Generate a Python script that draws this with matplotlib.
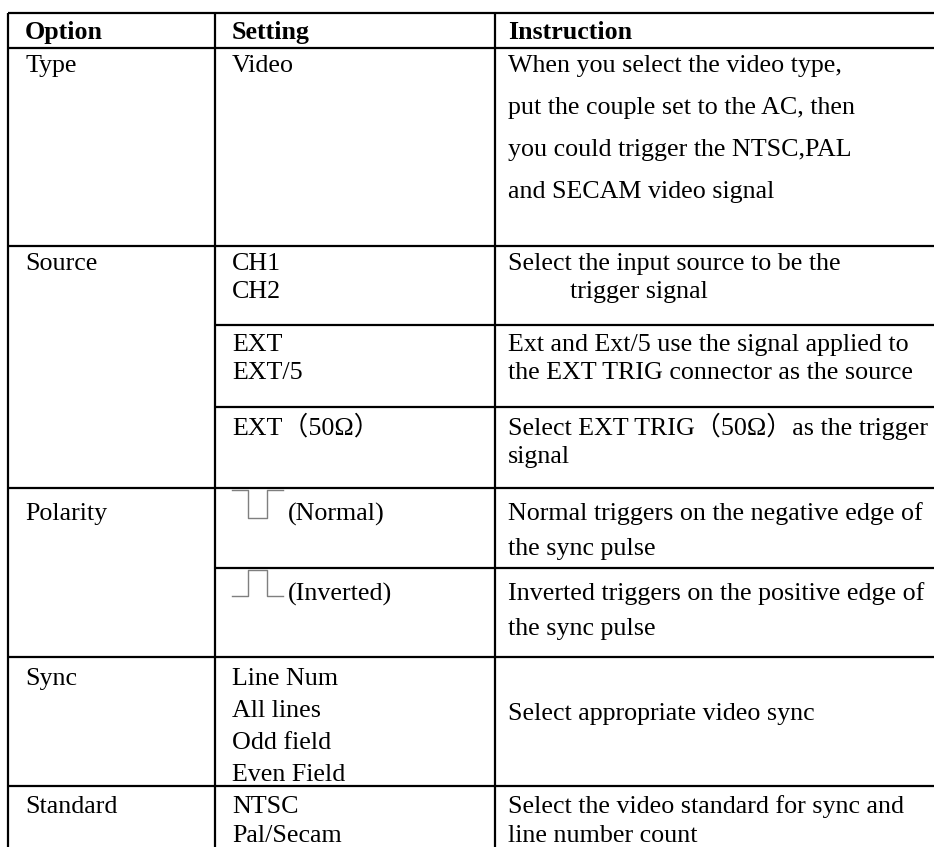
import matplotlib.pyplot as plt

# table content
header = ["Option", "Setting", "Instruction"]
options = ["Type", "Source", "Polarity", "Sync", "Standard"]

type_setting = ["Video"]
type_instruction = ["When you select the video type,",
                    "put the couple set to the AC, then",
                    "you could trigger the NTSC,PAL",
                    "and SECAM video signal"]

source_settings = [["CH1", "CH2"], ["EXT", "EXT/5"], ["EXT（50Ω）"]]
source_instructions = [["Select the input source to be the", "trigger signal"],
                       ["Ext and Ext/5 use the signal applied to",
                        "the EXT TRIG connector as the source"],
                       ["Select EXT TRIG（50Ω）as the trigger", "signal"]]

polarity_settings = ["(Normal)", "(Inverted)"]
polarity_instructions = [["Normal triggers on the negative edge of", "the sync pulse"],
                         ["Inverted triggers on the positive edge of", "the sync pulse"]]

sync_settings = ["Line Num", "All lines", "Odd field", "Even Field"]
sync_instruction = ["Select appropriate video sync"]

standard_settings = ["NTSC", "Pal/Secam"]
standard_instruction = ["Select the video standard for sync and", "line number count"]

# layout in pixels (y grows downward)
W, H = 934, 847
x_left, x_col1, x_col2, x_right = 8, 215, 495, 934
tx = [25, 232, 508]
full_rows = [13, 48, 246, 488, 657, 786]
part_rows = [325, 407, 568]

fig = plt.figure(figsize=(W / 100, H / 100), dpi=100)
ax = fig.add_axes([0, 0, 1, 1])
ax.set_xlim(0, W)
ax.set_ylim(H, 0)
ax.axis("off")

lw = 1.6
for y in full_rows:
    ax.plot([x_left, x_right], [y, y], color="black", lw=lw, solid_capstyle="butt")
for y in part_rows:
    ax.plot([x_col1, x_right], [y, y], color="black", lw=lw, solid_capstyle="butt")
for x in [x_left, x_col1, x_col2]:
    ax.plot([x, x], [full_rows[0], H], color="black", lw=lw, solid_capstyle="butt")

fam = ["Liberation Serif", "Noto Sans CJK SC", "DejaVu Serif"]
fs = 18.7


def put(x, y, s, bold=False):
    ax.text(x, y, s, fontsize=fs, family=fam, va="baseline", ha="left",
            fontweight="bold" if bold else "normal", color="black")


def lines(x, y0, items, step):
    for i, s in enumerate(items):
        put(x, y0 + i * step, s)


# header
for x, s in zip(tx, header):
    put(x, 39, s, bold=True)

# Type
put(tx[0], 72, options[0])
lines(tx[1], 72, type_setting, 42)
lines(tx[2], 72, type_instruction, 42)

# Source
put(tx[0], 270, options[1])
src_y = [270, 351, 435]
for y, st, ins in zip(src_y, source_settings, source_instructions):
    lines(tx[1], y, st, 28)
    put(tx[2], y, ins[0])
    indent = 62 if ins[1] == "trigger signal" else 0
    put(tx[2] + indent, y + 28, ins[1])

# Polarity
put(tx[0], 520, options[2])
pol_y = [520, 600]
for y, st, ins in zip(pol_y, polarity_settings, polarity_instructions):
    put(288, y + 1, st)
    lines(tx[2], y, ins, 35)

# pulse symbols
gray = "#7f7f7f"
ax.plot([232, 248, 248, 267, 267, 283], [490, 490, 518, 518, 490, 490],
        color=gray, lw=1.0)
ax.plot([232, 248, 248, 267, 267, 283], [596, 596, 570, 570, 596, 596],
        color=gray, lw=1.0)

# Sync
put(tx[0], 685, options[3])
lines(tx[1], 685, sync_settings, 32)
lines(tx[2], 720, sync_instruction, 32)

# Standard
put(tx[0], 813, options[4])
lines(tx[1], 813, standard_settings, 29)
lines(tx[2], 813, standard_instruction, 29)

fig.savefig("out.png", dpi=100)
